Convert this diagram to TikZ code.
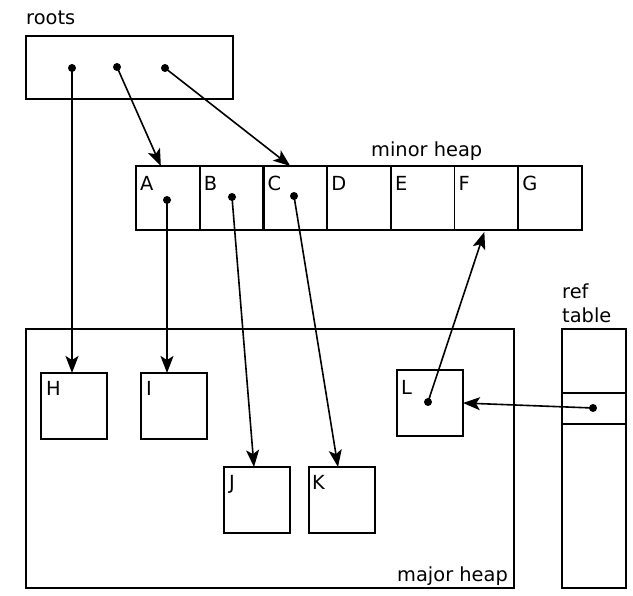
\documentclass[tikz,border=0pt]{standalone}
\usepackage{fontspec}
\setmainfont{DejaVu Sans}
\usetikzlibrary{arrows.meta,calc}
\begin{document}
\begin{tikzpicture}[x=1pt,y=-1pt,
  box/.style={draw, line width=1.6pt, inner sep=0pt, outer sep=0pt, anchor=north west},
  cell/.style={box, minimum width=63.7pt, minimum height=64pt},
  obj/.style={box, minimum width=66pt, minimum height=66pt},
  lbl/.style={anchor=base west, inner sep=0pt, font=\fontsize{19.4}{23}\selectfont},
  dot/.style={circle, fill, inner sep=0pt, minimum size=8pt},
  ptr/.style={line width=1.6pt, -{Stealth[length=17pt,width=13pt,inset=4pt]}}
]
\fill[white] (0,0) rectangle (633,596);
\useasboundingbox (0,0) rectangle (633,596);

% roots
\node[lbl] (rootslbl) at (26,25) {roots};
\node[box, minimum width=207pt, minimum height=63pt] (roots) at (26,36) {};
\node[dot] (r1) at (72,68) {};
\node[dot] (r2) at (117,67) {};
\node[dot] (r3) at (165,68) {};

% minor heap
\node[lbl] (minorlbl) at (371,157) {minor heap};
\foreach \l [count=\i from 0] in {A,B,C,D,E,F,G} {
  \node[cell] (\l) at ({136+63.7*\i},166) {};
  \node[lbl] (\l lbl) at ({136+63.7*\i+4},191) {\l};
}
\draw[line width=2.6pt] (C.north west) rectangle (C.south east);

% major heap
\node[box, minimum width=488pt, minimum height=259pt] (major) at (26,329) {};
\node[lbl] (majorlbl) at (397,582) {major heap};
\node[obj] (H) at (41,373) {};
\node[obj] (I) at (141,373) {};
\node[obj] (J) at (224,467) {};
\node[obj] (K) at (309,467) {};
\node[obj] (L) at (397,370) {};
\node[lbl] (Hlbl) at (46,396) {H};
\node[lbl] (Ilbl) at (146,396) {I};
\node[lbl] (Jlbl) at (229,490) {J};
\node[lbl] (Klbl) at (312,490) {K};
\node[lbl] (Llbl) at (401,395) {L};

% ref table
\node[lbl] (reflbl) at (562,299) {ref};
\node[lbl] (tablelbl) at (562,323) {table};
\node[box, minimum width=64pt, minimum height=259pt] (ref) at (562,329) {};
\node[box, minimum width=64pt, minimum height=31pt] (slot) at (562,393) {};

% dots
\node[dot] (dA) at (167,200) {};
\node[dot] (dB) at (232,197) {};
\node[dot] (dC) at (294,196) {};
\node[dot] (dL) at (428,402) {};
\node[dot] (dR) at (593,408) {};

% pointers
\draw[ptr] (r1.center) -- (r1 |- H.north);
\draw[ptr] (r2.center) -- ([xshift=-7pt]A.north);
\draw[ptr] (r3.center) -- ([xshift=-5pt]C.north);
\draw[ptr] (dA.center) -- (dA |- I.north);
\draw[ptr] (dB.center) -- ([xshift=-3pt]J.north);
\draw[ptr] (dC.center) -- ([xshift=-4pt]K.north);
\draw[ptr] (dL.center) -- ([xshift=-2pt,yshift=-2pt]F.south);
\draw[ptr] (dR.center) -- (L.east);
\end{tikzpicture}
\end{document}
